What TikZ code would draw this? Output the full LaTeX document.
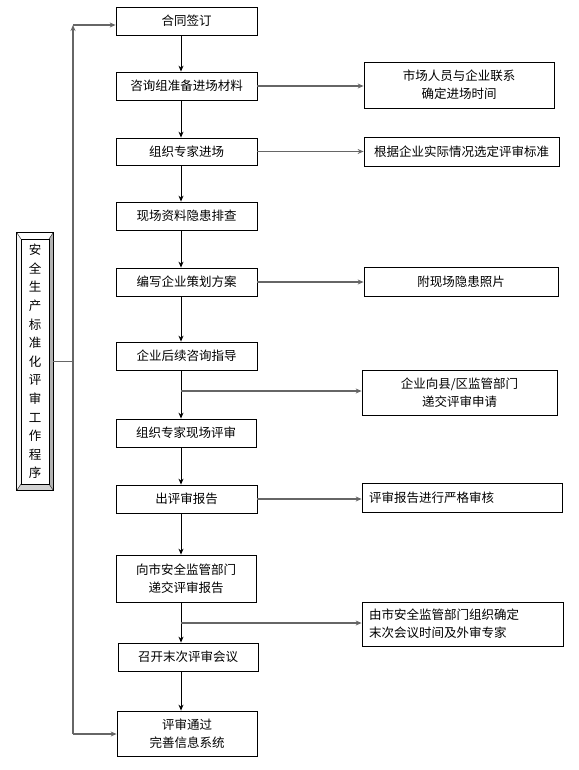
\documentclass[tikz,border=0pt]{standalone}
\usepackage{fontspec}
\newfontfamily\cjk{Noto Sans CJK SC}
\usetikzlibrary{positioning,arrows.meta}

\begin{document}
\begin{tikzpicture}[x=1pt,y=-1pt,>={Stealth[length=6pt,width=5pt]},
	box/.style={draw,thick,minimum width=141pt,minimum height=28pt,inner sep=1pt,font=\cjk\fontsize{12.5}{18}\selectfont,align=center},
	note/.style={draw,thick,minimum height=29pt,inner sep=1pt,font=\cjk\fontsize{12.5}{18}\selectfont,align=center},
	down/.style={->,line width=1pt,color=black},
	side/.style={->,line width=1.1pt,color=black!60}]
	\useasboundingbox (0,0) rectangle (578,770);
	% main column
	\node[box] (b1) at (186.5,21){合同签订};
	\node[box] (b2) at (186.5,86){咨询组准备进场材料};
	\node[box,minimum height=27pt] (b3) at (186.5,151.5){组织专家进场};
	\node[box] (b4) at (186.5,216){现场资料隐患排查};
	\node[box] (b5) at (186.5,282){编写企业策划方案};
	\node[box] (b6) at (186.5,356){企业后续咨询指导};
	\node[box,minimum width=140pt] (b7) at (186,433){组织专家现场评审};
	\node[box] (b8) at (186.5,499){出评审报告};
	\node[box,minimum width=140pt,minimum height=47pt] (b9) at (186,578.5){向市安全监管部门\\递交评审报告};
	\node[box,minimum width=140pt] (b10) at (188,657){召开末次评审会议};
	\node[box,minimum width=140pt,minimum height=45pt] (b11) at (187,733.5){评审通过\\完善信息系统};
	% notes on the right
	\node[note,minimum width=190pt,minimum height=46pt] (r1) at (459,85){市场人员与企业联系\\确定进场时间};
	\node[note,minimum width=195pt] (r2) at (461.5,151.5){根据企业实际情况选定评审标准};
	\node[note,minimum width=194pt] (r3) at (461,281.5){附现场隐患照片};
	\node[note,minimum width=195pt,minimum height=45pt] (r4) at (459.5,392.5){企业向县/区监管部门\\递交评审申请};
	\node[note,minimum width=200pt,text width=186pt,align=left] (r5) at (462,497.5){评审报告进行严格审核};
	\node[note,minimum width=201pt,minimum height=44pt,text width=187pt,align=left] (r6) at (462.5,624){由市安全监管部门组织确定\\末次会议时间及外审专家};
	% left label with bevelled frame
	\node[draw,thick,minimum width=36pt,minimum height=257pt,inner sep=0pt] (frame) at (35,361.5){};
	\fill[white] (17,233) -- (53,233) -- (49,239) -- (21,239) -- cycle;
	\fill[gray!8] (17,233) -- (21,239) -- (21,484) -- (17,490) -- cycle;
	\fill[gray!60] (53,233) -- (53,490) -- (49,484) -- (49,239) -- cycle;
	\fill[gray!35] (17,490) -- (53,490) -- (49,484) -- (21,484) -- cycle;
	\draw (17,233) -- (21,239) (53,233) -- (49,239) (17,490) -- (21,484) (53,490) -- (49,484);
	\node[draw,thick,fill=white,minimum width=28pt,minimum height=245pt,inner sep=0pt,align=center,font=\cjk\fontsize{12.5}{18.6}\selectfont] (lbl) at (35,361.5){安\\全\\生\\产\\标\\准\\化\\评\\审\\工\\作\\程\\序};
	\draw[thick] (frame.north west) rectangle (frame.south east);
	% connectors
	\coordinate (ax) at (181,0);
	\coordinate (jn) at (73,361.5);
	\coordinate (top) at (73,25);
	\coordinate (bot) at (73,734);
	\coordinate (s6) at (181,391);
	\coordinate (s9) at (181,623);
	\foreach \a/\b in {b1/b2,b2/b3,b3/b4,b4/b5,b5/b6,b6/b7,b7/b8,b8/b9,b9/b10,b10/b11}
		\draw[down] (\a.south -| ax) -- (\b.north -| ax);
	\draw[side] (b2.east) -- (r1.west |- b2.east);
	\draw[side] (b3.east) -- (r2.west |- b3.east);
	\draw[side] (b5.east) -- (r3.west |- b5.east);
	\draw[side] (s6) -- (r4.west |- s6);
	\draw[side] (b8.east) -- (r5.west |- b8.east);
	\draw[side] (s9) -- (r6.west |- s9);
	\draw[side,-] (frame.east |- jn) -- (jn);
	\draw[side] (bot) -- (top);
	\draw[side] (top) -- (b1.west |- top);
	\draw[side] (bot) -- (b11.west |- bot);
\end{tikzpicture}
\end{document}
